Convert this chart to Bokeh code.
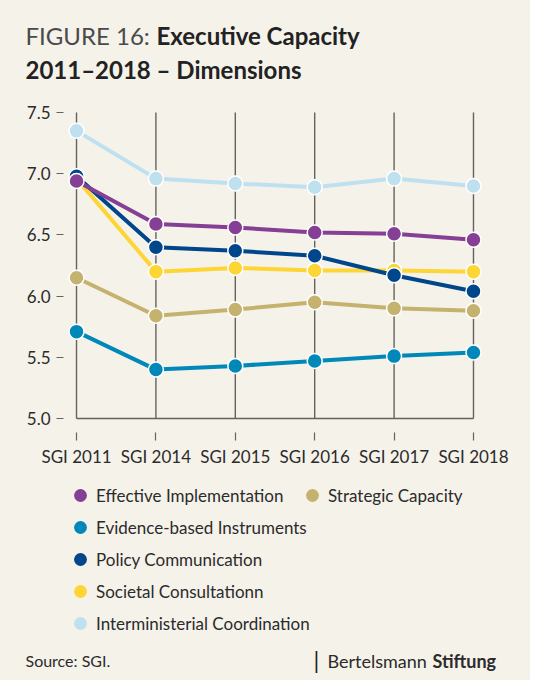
from bokeh.plotting import figure
from bokeh.models import (Range1d, FixedTicker, Label, Legend, LegendItem, ColumnDataSource,
                          NumeralTickFormatter)
from bokeh.embed import file_html
from bokeh.resources import INLINE

# ---- data ----
categories = ["SGI 2011", "SGI 2014", "SGI 2015", "SGI 2016", "SGI 2017", "SGI 2018"]
y_ticks = [5.0, 5.5, 6.0, 6.5, 7.0, 7.5]

interministerial = [7.35, 6.96, 6.92, 6.89, 6.96, 6.90]
strategic = [6.15, 5.84, 5.89, 5.95, 5.90, 5.88]
evidence = [5.71, 5.40, 5.43, 5.47, 5.51, 5.54]
societal = [6.96, 6.20, 6.23, 6.21, 6.21, 6.20]
policy = [6.98, 6.40, 6.37, 6.33, 6.17, 6.04]
effective = [6.94, 6.59, 6.56, 6.52, 6.51, 6.46]

series_names = ["Interministerial Coordination", "Strategic Capacity", "Evidence-based Instruments",
                "Societal Consultationn", "Policy Communication", "Effective Implementation"]
series_values = [interministerial, strategic, evidence, societal, policy, effective]
series_colors = ["#BFE1EF", "#C6B26F", "#0088B9", "#FDD535", "#00468A", "#853F94"]

legend_col1 = ["Effective Implementation", "Evidence-based Instruments", "Policy Communication",
               "Societal Consultationn", "Interministerial Coordination"]
legend_col2 = ["Strategic Capacity"]

BG = "#F5F2EA"
FONT = "Lato"
TXT = "#2b2b2b"
AX = "#66625e"
W = 530
NAN = float("nan")

xs = list(range(len(categories)))
color_of = dict(zip(series_names, series_colors))


def blank_fig(h):
    f = figure(width=W, height=h, x_range=Range1d(0, W), y_range=Range1d(0, h),
               output_backend="svg", toolbar_location=None,
               x_axis_location=None, y_axis_location=None,
               min_border=0, min_border_left=0, min_border_right=0, min_border_top=0, min_border_bottom=0,
               background_fill_color=BG, border_fill_color=BG, outline_line_color=None)
    f.grid.visible = False
    return f


def lab(f, text, x, y, size, style="normal", color=TXT):
    f.add_layout(Label(x=x, y=y, x_units="screen", y_units="screen", text=text,
                       text_font=FONT, text_font_size=size, text_font_style=style,
                       text_color=color, text_baseline="middle", text_align="left"))


# ---- title ----
t = blank_fig(100)
lab(t, "FIGURE 16:", 25, 65, "24px", "normal", "#4a4a4a")
lab(t, "Executive Capacity", 156, 65, "24px", "bold", "#222222")
lab(t, "2011\u20132018 \u2013 Dimensions", 25, 31, "24px", "bold", "#222222")

# ---- chart ----
p = figure(width=W, height=370,
           x_range=Range1d(-0.164, 5.164), y_range=Range1d(4.886, 7.598),
           output_backend="svg", toolbar_location=None,
           min_border_left=63, min_border_right=44, min_border_top=0, min_border_bottom=38,
           background_fill_color=BG, border_fill_color=BG, outline_line_color=None)
p.xgrid.visible = False
p.ygrid.visible = False

ymin, ymax = min(y_ticks), max(y_ticks)
p.segment(x0=xs, y0=[ymin] * len(xs), x1=xs, y1=[ymax] * len(xs), line_color=AX, line_width=1.4)
p.segment(x0=[xs[0]], y0=[ymin], x1=[xs[-1]], y1=[ymin], line_color=AX, line_width=1.6)

xa = p.xaxis[0]
xa.ticker = FixedTicker(ticks=xs)
xa.major_label_overrides = {i: c for i, c in zip(xs, categories)}
xa.axis_line_color = None
xa.major_tick_out = 8
xa.major_tick_in = 0
xa.major_tick_line_color = AX
xa.major_tick_line_width = 1.2
xa.minor_tick_line_color = None
xa.major_label_text_font = FONT
xa.major_label_text_font_size = "17px"
xa.major_label_text_color = TXT
xa.major_label_standoff = 5

ya = p.yaxis[0]
ya.ticker = FixedTicker(ticks=y_ticks)
ya.formatter = NumeralTickFormatter(format="0.0")
ya.axis_line_color = None
ya.major_tick_out = 7
ya.major_tick_in = 0
ya.major_tick_line_color = AX
ya.major_tick_line_width = 1.2
ya.minor_tick_line_color = None
ya.major_label_text_font = FONT
ya.major_label_text_font_size = "17px"
ya.major_label_text_color = TXT
ya.major_label_standoff = 6

for name, vals, col in zip(series_names, series_values, series_colors):
    src = ColumnDataSource(dict(x=xs, y=vals))
    p.line("x", "y", source=src, line_color=col, line_width=4)
    p.scatter("x", "y", source=src, size=15, fill_color=col, line_color="white", line_width=1.5)

# ---- legend + footer ----
g = blank_fig(210)
leg_r = {}
for name in series_names:
    leg_r[name] = g.scatter(x=[NAN], y=[NAN], size=15, fill_color=color_of[name], line_color=None)

leg_kw = dict(orientation="vertical", glyph_width=32, glyph_height=32, spacing=0, label_standoff=0,
              padding=0, margin=0, border_line_color=None, background_fill_alpha=0,
              label_text_font=FONT, label_text_font_size="17px", label_text_color=TXT)
leg1 = Legend(items=[LegendItem(label=n, renderers=[leg_r[n]]) for n in legend_col1],
              location=(64, 41), **leg_kw)
leg2 = Legend(items=[LegendItem(label=n, renderers=[leg_r[n]]) for n in legend_col2],
              location=(296, 169), **leg_kw)
g.add_layout(leg1)
g.add_layout(leg2)

lab(g, "Source: SGI.", 25, 20, "16px", "normal", TXT)
lab(g, "|", 313, 21, "23px", "normal", "#222222")
lab(g, "Bertelsmann", 327, 20, "18px", "normal", TXT)
lab(g, "Stiftung", 432, 20, "18px", "bold", TXT)

html = file_html((t, p, g), INLINE)
html = html.replace("</head>",
                    "<style>html{background:#ffffff}body{background:%s;width:%dpx;height:680px}</style></head>" % (BG, W), 1)
open("out.html", "w").write(html)
